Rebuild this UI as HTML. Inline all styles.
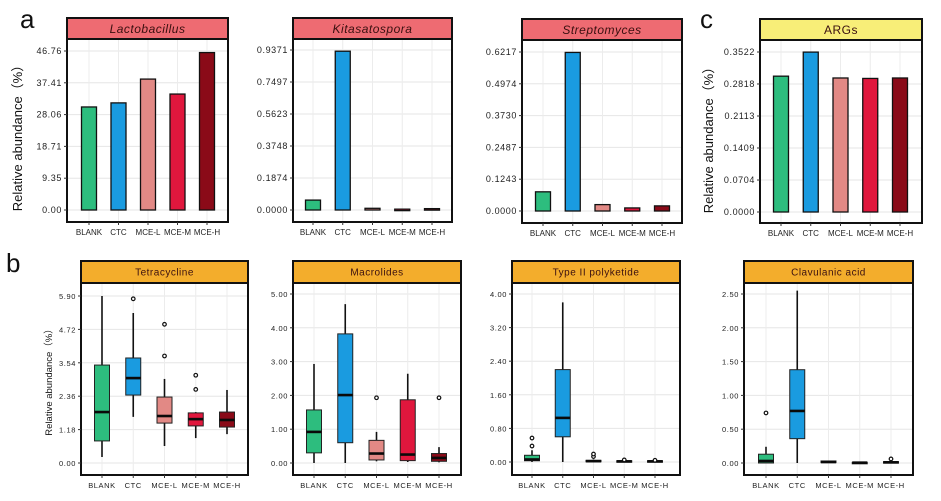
<!DOCTYPE html>
<html><head><meta charset="utf-8"><style>
body{margin:0;background:#fff;}
svg{display:block;font-family:"Liberation Sans",Arial,sans-serif;}
</style></head><body>
<svg id="fig" width="941" height="501" viewBox="0 0 941 501"></svg>
<script>
const groups = ["BLANK","CTC","MCE-L","MCE-M","MCE-H"];
const colors = ["#2dbd7e","#1a9be0","#e28985","#e0173d","#8a0a18"];

const lactoTicks = ["0.00","9.35","18.71","28.06","37.41","46.76"];
const lactoVals = [30.3,31.5,38.5,34.1,46.3];
const kitaTicks = ["0.0000","0.1874","0.3748","0.5623","0.7497","0.9371"];
const kitaVals = [0.058,0.93,0.010,0.005,0.008];
const strepTicks = ["0.0000","0.1243","0.2487","0.3730","0.4974","0.6217"];
const strepVals = [0.075,0.62,0.025,0.012,0.020];
const argTicks = ["0.0000","0.0704","0.1409","0.2113","0.2818","0.3522"];
const argVals = [0.299,0.352,0.295,0.294,0.295];

// box stats: [low whisker, q1, median, q3, high whisker]
const tetraTicks = ["0.00","1.18","2.36","3.54","4.72","5.90"];
const tetraBox = [[0.21,0.78,1.8,3.46,5.9],[1.63,2.4,3.0,3.71,5.3],[0.6,1.41,1.66,2.33,2.97],[0.88,1.31,1.55,1.77,1.8],[1.02,1.27,1.52,1.8,2.58]];
const tetraOut = [[],[5.8],[4.9,3.78],[3.1,2.6],[]];
const macroTicks = ["0.00","1.00","2.00","3.00","4.00","5.00"];
const macroBox = [[0,0.3,0.92,1.57,2.93],[0,0.6,2.01,3.82,4.7],[0.05,0.09,0.28,0.67,0.92],[0.03,0.07,0.25,1.87,2.64],[0.02,0.05,0.15,0.28,0.47]];
const macroOut = [[],[],[1.93],[],[1.93]];
const typeTicks = ["0.00","0.80","1.60","2.40","3.20","4.00"];
const typeBox = [[0,0.03,0.06,0.16,0.28],[0,0.6,1.05,2.2,3.8],[0,0.005,0.02,0.04,0.06],[0,0.005,0.015,0.03,0.03],[0,0.005,0.015,0.03,0.03]];
const typeOut = [[0.38,0.57],[],[0.13,0.19],[0.05],[0.04]];
const clavTicks = ["0.00","0.50","1.00","1.50","2.00","2.50"];
const clavBox = [[0,0,0.03,0.13,0.24],[0,0.36,0.77,1.38,2.55],[0,0.005,0.015,0.03,0.03],[0,0.002,0.005,0.01,0.01],[0,0.003,0.01,0.02,0.02]];
const clavOut = [[0.74],[],[],[],[0.06]];

const svg = document.getElementById('fig');
const NS = "http://www.w3.org/2000/svg";
function mk(tag, attrs, parent){const e=document.createElementNS(NS,tag);for(const k in attrs)e.setAttribute(k,attrs[k]);(parent||svg).appendChild(e);return e;}
function txt(x,y,s,attrs){const t=mk('text',Object.assign({x:x,y:y},attrs));t.textContent=s;return t;}

function panel(cfg){
  const g=mk('g',{});
  
  
  const maxV=parseFloat(cfg.ticks[cfg.ticks.length-1]);
  const y=v=>cfg.y0-(v/maxV)*(cfg.y0-cfg.yMax);
  const xs=groups.map((_,i)=>cfg.xFirst+i*(cfg.xLast-cfg.xFirst)/4);
  cfg.ticks.forEach(t=>{const l=mk('line',{x1:cfg.x1,x2:cfg.x2,y1:y(parseFloat(t)),y2:y(parseFloat(t)),stroke:'#e6e6e6','stroke-width':1},g);
    });
  xs.forEach(x=>{mk('line',{x1:x,x2:x,y1:cfg.stripB,y2:cfg.bottom,stroke:'#ececec','stroke-width':1},g);});
  const s=mk('rect',{x:cfg.x1,y:cfg.stripT,width:cfg.x2-cfg.x1,height:cfg.stripB-cfg.stripT,fill:cfg.stripColor,stroke:'#111','stroke-width':2},g);
  
  const st=txt((cfg.x1+cfg.x2)/2,(cfg.stripT+cfg.stripB)/2+cfg.stripFs*0.36,cfg.title,{'text-anchor':'middle','font-size':cfg.stripFs,fill:'#3a1010','font-style':cfg.italic?'italic':'normal','letter-spacing':'0.5'});
  g.appendChild(st);
  if(cfg.bars){
    cfg.bars.forEach((v,i)=>{const r=mk('rect',{x:xs[i]-cfg.bw/2,y:y(v),width:cfg.bw,height:Math.max(y(0)-y(v),1.5),fill:colors[i],stroke:'#111','stroke-width':1.3},g);
      });
  } else {
    cfg.box.forEach((b,i)=>{
      mk('line',{x1:xs[i],x2:xs[i],y1:y(b[0]),y2:y(b[4]),stroke:'#111','stroke-width':1.6},g);
      const r=mk('rect',{x:xs[i]-cfg.bw/2,y:y(b[3]),width:cfg.bw,height:Math.max(y(b[1])-y(b[3]),1.5),fill:colors[i],stroke:'#222','stroke-width':1},g);
      
      mk('line',{x1:xs[i]-cfg.bw/2,x2:xs[i]+cfg.bw/2,y1:y(b[2]),y2:y(b[2]),stroke:'#0a0a0a','stroke-width':2.6},g);
      cfg.out[i].forEach(o=>{const c=mk('circle',{cx:xs[i],cy:y(o),r:1.8,fill:'#fff',stroke:'#111','stroke-width':1.2},g);
        });
    });
  }
  mk('rect',{x:cfg.x1,y:cfg.stripB,width:cfg.x2-cfg.x1,height:cfg.bottom-cfg.stripB,fill:'none',stroke:'#111','stroke-width':2},g);
  cfg.ticks.forEach(t=>{const yy=y(parseFloat(t));
    mk('line',{x1:cfg.x1-3,x2:cfg.x1,y1:yy,y2:yy,stroke:'#333','stroke-width':1},g);
    const tl=txt(cfg.x1-5,yy+3,t,{'text-anchor':'end','font-size':cfg.tickFs,fill:'#222','letter-spacing':cfg.ls});g.appendChild(tl);
    });
  xs.forEach((x,i)=>{mk('line',{x1:x,x2:x,y1:cfg.bottom,y2:cfg.bottom+3,stroke:'#333','stroke-width':1},g);
    const tl=txt(x,cfg.bottom+13,groups[i],{'text-anchor':'middle','font-size':cfg.xFs,fill:'#222','letter-spacing':cfg.xls});g.appendChild(tl);
    });
}

const topBase={stripT:18,stripB:39,bottom:222,stripFs:12,tickFs:9,xFs:8,ls:'0.6',xls:'0',bw:15,italic:true,stripColor:'#ee6b72'};
panel(Object.assign({},topBase,{name:'lactobacillus',title:'Lactobacillus',x1:67,x2:228,xFirst:89,xLast:207,yMax:51,y0:210,ticks:lactoTicks,bars:lactoVals}));
panel(Object.assign({},topBase,{name:'kitasatospora',title:'Kitasatospora',x1:293,x2:452,xFirst:313,xLast:432,yMax:50,y0:210,ticks:kitaTicks,bars:kitaVals}));
panel(Object.assign({},topBase,{name:'streptomyces',title:'Streptomyces',x1:522,x2:682,xFirst:543,xLast:662,yMax:52,y0:211,ticks:strepTicks,bars:strepVals,stripT:19,stripB:40,bottom:223}));
panel(Object.assign({},topBase,{name:'args',title:'ARGs',italic:false,stripColor:'#f8ee78',x1:760,x2:922,xFirst:781,xLast:900,yMax:52,y0:212,ticks:argTicks,bars:argVals,stripT:19,stripB:40,bottom:223}));

const botBase={stripT:261,stripB:283,bottom:475,stripFs:10,tickFs:7.5,xFs:7.5,ls:'0.6',xls:'0.6',bw:15,italic:false,stripColor:'#f3ad2c'};
panel(Object.assign({},botBase,{name:'tetracycline',title:'Tetracycline',x1:81,x2:248,xFirst:102,xLast:227,yMax:296,y0:463,ticks:tetraTicks,box:tetraBox,out:tetraOut}));
panel(Object.assign({},botBase,{name:'macrolides',title:'Macrolides',x1:293,x2:461,xFirst:314,xLast:439,yMax:294,y0:463,ticks:macroTicks,box:macroBox,out:macroOut}));
panel(Object.assign({},botBase,{name:'type-ii-polyketide',title:'Type II polyketide',x1:512,x2:680,xFirst:532,xLast:655,yMax:294,y0:462,ticks:typeTicks,box:typeBox,out:typeOut}));
panel(Object.assign({},botBase,{name:'clavulanic-acid',title:'Clavulanic acid',x1:744,x2:913,xFirst:766,xLast:891,yMax:294,y0:463,ticks:clavTicks,box:clavBox,out:clavOut}));

function label(x,y,s,fs,name,rot){const t=txt(x,y,s,{'font-size':fs,fill:'#111','text-anchor':rot?'middle':'start'});
  if(rot)t.setAttribute('transform','rotate(-90 '+x+' '+y+')');
  }
label(20,28,'a',26,'panel-letter-a');
label(6,272,'b',26,'panel-letter-b');
label(700,28,'c',26,'panel-letter-c');
label(22,135,'Relative abundance（%）',13,'y-axis-title-a',true);
label(713,137,'Relative abundance（%）',13,'y-axis-title-c',true);
label(52,380,'Relative abundance（%）',9.5,'y-axis-title-b',true);
</script>
</body></html>
